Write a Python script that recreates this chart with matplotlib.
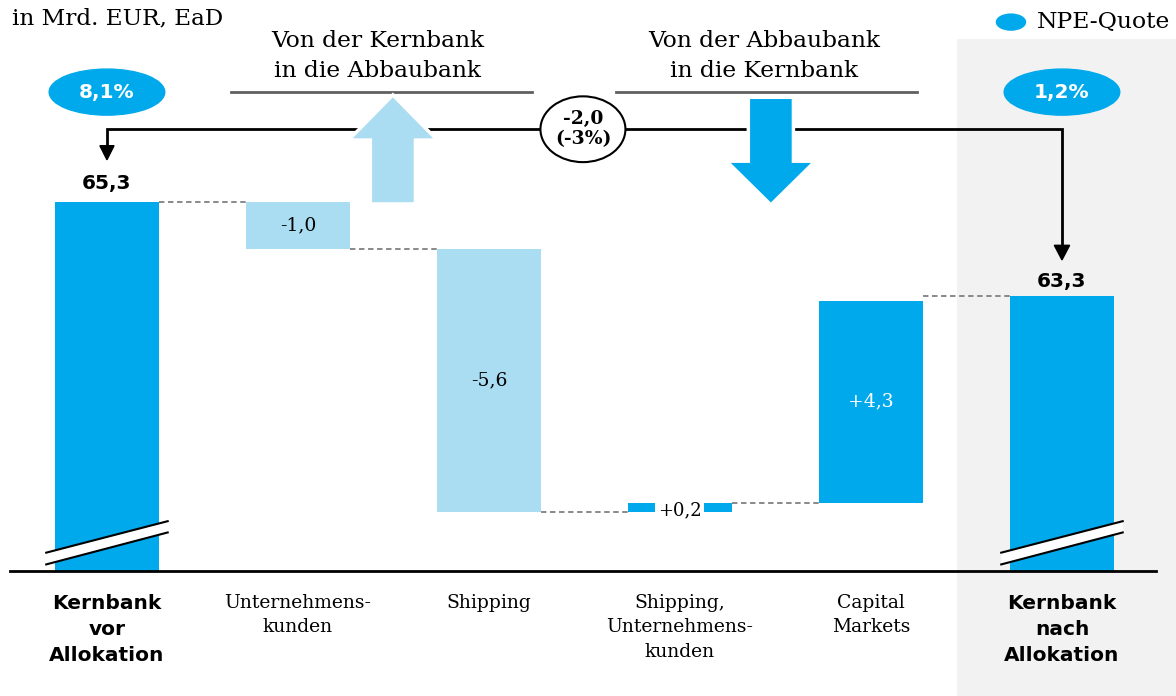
import matplotlib
matplotlib.use("Agg")
import matplotlib.pyplot as plt
import numpy as np
from matplotlib.patches import Ellipse, Polygon, Rectangle

# data
categories = ["Kernbank\nvor\nAllokation", "Unternehmens-\nkunden", "Shipping",
              "Shipping,\nUnternehmens-\nkunden", "Capital\nMarkets", "Kernbank\nnach\nAllokation"]
start_value = 65.3
changes = [-1.0, -5.6, 0.2, 4.3]
change_labels = ["-1,0", "-5,6", "+0,2", "+4,3"]
end_value = 63.3
total_labels = ["65,3", "63,3"]
npe_quote = ["8,1%", "1,2%"]
net_change = "-2,0\n(-3%)"
header_left = "Von der Kernbank\nin die Abbaubank"
header_right = "Von der Abbaubank\nin die Kernbank"

DARK = "#00a9ec"
LIGHT = "#aadcf2"
SERIF = "DejaVu Serif"
SANS = "DejaVu Sans"

base = 57.45          # value where the broken axis sits
bar_w = 0.545

fig = plt.figure(figsize=(11.76, 6.96), dpi=100)
ax = fig.add_axes([0, 0, 1, 1])
ax.set_xlim(-0.560, 5.597)
ax.set_ylim(54.79, 69.60)
ax.axis("off")

# grey panel behind the final bar
ax.add_patch(Rectangle((4.45, 54.79), 1.2, 13.99, color="#f2f2f2", zorder=0, lw=0))

# waterfall bars
x = np.arange(len(categories))
ax.bar(x[0], start_value - base, bottom=base, width=bar_w, color=DARK, zorder=2)
ax.bar(x[-1], end_value - base, bottom=base, width=bar_w, color=DARK, zorder=2)

level = start_value
levels = [level]
for i, ch in enumerate(changes):
    col = LIGHT if ch < 0 else DARK
    bottom = level + ch if ch < 0 else level
    ax.bar(x[i + 1], abs(ch), bottom=bottom, width=bar_w, color=col, zorder=2)
    level += ch
    levels.append(level)

# dashed connectors between bars
conn = levels[:]
conn[-1] = end_value
for i in range(len(categories) - 1):
    ax.plot([x[i] + bar_w / 2, x[i + 1] - bar_w / 2], [conn[i], conn[i]],
            color="#808080", lw=1.3, ls=(0, (3, 2)), zorder=1)

# value labels inside bars
for i, (ch, lab) in enumerate(zip(changes, change_labels)):
    lo = levels[i] + min(ch, 0)
    mid = lo + abs(ch) / 2
    if abs(ch) < 0.5:
        ax.text(x[i + 1], mid - 0.05, lab, ha="center", va="center", fontsize=13,
                family=SERIF, zorder=4,
                bbox=dict(facecolor="white", edgecolor="none", pad=2.0))
    else:
        ax.text(x[i + 1], mid, lab, ha="center", va="center", fontsize=13.5,
                family=SERIF, color="white" if ch > 0 else "black", zorder=4)

# totals
ax.text(x[0], start_value + 0.4, total_labels[0], ha="center", va="center",
        fontsize=14.5, family=SANS, weight="bold", zorder=4)
ax.text(x[-1], end_value + 0.3, total_labels[1], ha="center", va="center",
        fontsize=14.5, family=SANS, weight="bold", zorder=4)

# axis line
ax.plot([-0.508, 5.492], [base, base], color="black", lw=2, zorder=3)

# axis break marks
for xc in (x[0], x[-1]):
    xs = np.array([xc - 0.318, xc + 0.318])
    up = np.array([57.84, 58.51])
    lo = np.array([57.59, 58.27])
    ax.add_patch(Polygon([[xs[0], up[0]], [xs[1], up[1]], [xs[1], lo[1]], [xs[0], lo[0]]],
                         closed=True, color="white", lw=0, zorder=3))
    ax.plot(xs, up, color="black", lw=1.5, zorder=3)
    ax.plot(xs, lo, color="black", lw=1.5, zorder=3)

# category labels
for i, cat in enumerate(categories):
    bold = i in (0, len(categories) - 1)
    ax.text(x[i], 56.96, cat, ha="center", va="top",
            fontsize=14.5 if bold else 13.5, family=SANS if bold else SERIF,
            weight="bold" if bold else "normal", linespacing=1.45)

# connecting arrow line above
yl = 66.85
ax.plot([x[0], x[0], x[-1], x[-1]], [66.5, yl, yl, 64.4], color="black", lw=2, zorder=3,
        solid_joinstyle="miter")
ax.add_patch(Polygon([[x[0] - 0.037, 66.5], [x[0] + 0.037, 66.5], [x[0], 66.2]],
                     color="black", zorder=3))
ax.add_patch(Polygon([[x[-1] - 0.04, 64.38], [x[-1] + 0.04, 64.38], [x[-1], 64.07]],
                     color="black", zorder=3))

# net change bubble
ax.add_patch(Ellipse((2.492, yl), 0.445, 1.40, facecolor="white", edgecolor="black",
                     lw=1.5, zorder=5))
ax.text(2.492, yl, net_change, ha="center", va="center", fontsize=13.5,
        family=SERIF, weight="bold", linespacing=1.15, zorder=6)

# big up / down arrows
def big_arrow(xc, tail, head_base, tip, color):
    hw, sw = 0.232, 0.118
    pts = [[xc - sw, tail], [xc - sw, head_base], [xc - hw, head_base], [xc, tip],
           [xc + hw, head_base], [xc + sw, head_base], [xc + sw, tail]]
    ax.add_patch(Polygon(pts, closed=True, facecolor=color, edgecolor="white",
                         lw=2.5, zorder=4))

big_arrow(1.497, 65.26, 66.62, 67.58, LIGHT)
big_arrow(3.476, 67.53, 66.17, 65.24, DARK)

# headers
ax.plot([0.649, 2.225], [67.64, 67.64], color="#606060", lw=2, zorder=3)
ax.plot([2.665, 4.241], [67.64, 67.64], color="#606060", lw=2, zorder=3)
ax.text(1.419, 68.41, header_left, ha="center", va="center", fontsize=16.8,
        family=SERIF, linespacing=1.5)
ax.text(3.44, 68.41, header_right, ha="center", va="center", fontsize=16.8,
        family=SERIF, linespacing=1.5)

# NPE ratio bubbles
for xc, q in zip((x[0], x[-1]), npe_quote):
    ax.add_patch(Ellipse((xc, 67.64), 0.605, 0.98, color=DARK, zorder=3))
    ax.text(xc, 67.64, q, ha="center", va="center", fontsize=14.5, color="white",
            family=SANS, weight="bold", zorder=4)

# title and legend
ax.text(-0.497, 69.20, "in Mrd. EUR, EaD", ha="left", va="center", fontsize=16.7,
        family=SERIF)
ax.add_patch(Ellipse((4.733, 69.13), 0.152, 0.34, color=DARK, zorder=3))
ax.text(4.87, 69.13, "NPE-Quote", ha="left", va="center", fontsize=16.9, family=SERIF)

fig.savefig("out.png", dpi=100)
